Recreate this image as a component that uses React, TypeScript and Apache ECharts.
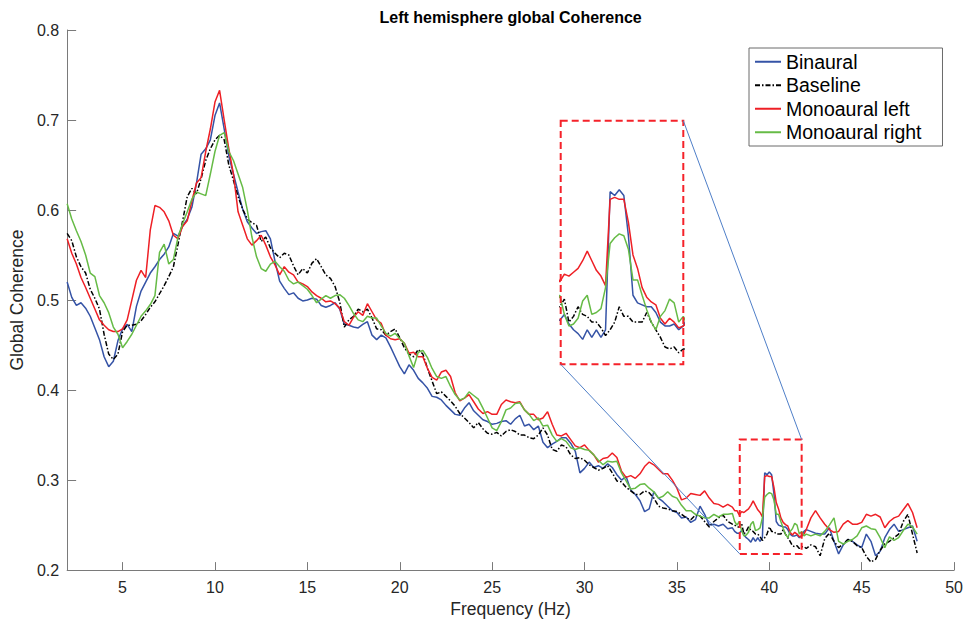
import React, { useEffect, useRef } from "react";
import * as echarts from "echarts";

// Sampling grid (Hz): 0.25 Hz steps, refined to 0.125 Hz around the 40 Hz stimulation band
function span(from: number, to: number, step: number): number[] {
  const out: number[] = [];
  const n = Math.round((to - from) / step);
  for (let i = 0; i <= n; i++) out.push(+(from + i * step).toFixed(3));
  return out;
}
const frequencies = [...span(2, 38, 0.25), ...span(38.125, 42, 0.125), ...span(42.25, 48, 0.25)];

const binaural = [
  0.520, 0.503, 0.494, 0.497, 0.491, 0.482, 0.469, 0.456, 0.437, 0.426, 0.432, 0.455, 0.468, 0.473, 0.465, 0.493,
  0.510, 0.520, 0.530, 0.537, 0.545, 0.551, 0.559, 0.574, 0.571, 0.582, 0.590, 0.603, 0.630, 0.662, 0.668, 0.678,
  0.705, 0.719, 0.690,
  0.660, 0.640, 0.620, 0.601, 0.587, 0.580, 0.574, 0.576, 0.577, 0.568, 0.543, 0.521, 0.513, 0.506, 0.508, 0.502,
  0.499, 0.500, 0.502, 0.501, 0.494, 0.492, 0.494, 0.497, 0.490, 0.473, 0.472, 0.470, 0.469,
  0.473, 0.476, 0.461, 0.456, 0.461, 0.458, 0.448, 0.437, 0.426, 0.418, 0.428, 0.422, 0.413, 0.408, 0.402, 0.393,
  0.392, 0.389, 0.383, 0.378, 0.373, 0.372, 0.380, 0.386, 0.377, 0.372, 0.367, 0.365, 0.362, 0.363, 0.365, 0.366,
  0.362, 0.368, 0.372, 0.360, 0.362, 0.356, 0.360, 0.342, 0.336, 0.340, 0.343, 0.347, 0.347, 0.341, 0.332, 0.308,
  0.313, 0.320, 0.314, 0.316, 0.313, 0.318, 0.314, 0.306, 0.300, 0.304, 0.289, 0.284, 0.277, 0.265, 0.268, 0.287,
  0.280, 0.276, 0.271, 0.266,
  0.264, 0.258, 0.259, 0.253, 0.256, 0.271, 0.262, 0.250, 0.251, 0.249, 0.251, 0.246, 0.247,
  0.243, 0.241, 0.241, 0.244, 0.239, 0.236, 0.234, 0.231, 0.236, 0.232, 0.236, 0.232, 0.236, 0.308, 0.306, 0.309,
  0.306, 0.285, 0.254, 0.250, 0.249, 0.248, 0.248, 0.245, 0.240, 0.238, 0.238, 0.239, 0.236, 0.238, 0.243, 0.245,
  0.243, 0.241, 0.240, 0.240, 0.247, 0.232, 0.218, 0.228, 0.234, 0.232, 0.228, 0.225, 0.240, 0.232, 0.216, 0.221,
  0.236, 0.245, 0.251, 0.243, 0.245, 0.247, 0.249, 0.232,
];

const baseline = [
  0.574, 0.566, 0.548, 0.537, 0.530, 0.512, 0.502, 0.490, 0.462, 0.440, 0.434, 0.440, 0.465, 0.472, 0.472, 0.473,
  0.477, 0.484, 0.492, 0.498, 0.507, 0.516, 0.526, 0.537, 0.562, 0.588, 0.615, 0.624, 0.618, 0.635, 0.655, 0.668,
  0.678, 0.683, 0.678,
  0.650, 0.633, 0.615, 0.601, 0.590, 0.586, 0.583, 0.565, 0.570, 0.558, 0.552, 0.547, 0.552, 0.550, 0.538, 0.528,
  0.535, 0.530, 0.541, 0.546, 0.537, 0.528, 0.524, 0.515, 0.498, 0.470, 0.478, 0.482, 0.490,
  0.487, 0.490, 0.480, 0.468, 0.467, 0.461, 0.465, 0.468, 0.458, 0.447, 0.440, 0.437, 0.445, 0.440, 0.424, 0.410,
  0.396, 0.398, 0.393, 0.388, 0.382, 0.374, 0.369, 0.364, 0.358, 0.364, 0.357, 0.352, 0.351, 0.353, 0.349, 0.354,
  0.356, 0.354, 0.350, 0.350, 0.347, 0.346, 0.350, 0.358, 0.350, 0.334, 0.332, 0.339, 0.337, 0.328, 0.324, 0.325,
  0.322, 0.317, 0.314, 0.311, 0.313, 0.316, 0.308, 0.299, 0.298, 0.292, 0.288, 0.284, 0.284, 0.288, 0.286, 0.280,
  0.271, 0.269, 0.268, 0.266,
  0.265, 0.262, 0.258, 0.256, 0.261, 0.260, 0.254, 0.248, 0.254, 0.258, 0.261, 0.254, 0.251,
  0.250, 0.248, 0.248, 0.252, 0.240, 0.243, 0.248, 0.244, 0.243, 0.240, 0.240, 0.237, 0.233, 0.236, 0.240, 0.248,
  0.243, 0.243, 0.240, 0.240, 0.240, 0.245, 0.240, 0.236, 0.232, 0.227, 0.226, 0.227, 0.224, 0.226, 0.226, 0.224,
  0.228, 0.226, 0.216, 0.235, 0.241, 0.232, 0.225, 0.229, 0.234, 0.232, 0.227, 0.225, 0.215, 0.209, 0.212, 0.222,
  0.229, 0.232, 0.236, 0.240, 0.254, 0.262, 0.240, 0.219,
];

const monoauralLeft = [
  0.568, 0.552, 0.540, 0.525, 0.514, 0.502, 0.490, 0.478, 0.472, 0.467, 0.465, 0.465, 0.468, 0.478, 0.500, 0.522,
  0.533, 0.525, 0.578, 0.605, 0.603, 0.598, 0.588, 0.572, 0.568, 0.582, 0.588, 0.610, 0.630, 0.636, 0.665, 0.690,
  0.720, 0.733, 0.700,
  0.668, 0.640, 0.598, 0.583, 0.568, 0.561, 0.566, 0.572, 0.561, 0.548, 0.539, 0.528, 0.537, 0.531, 0.528, 0.520,
  0.518, 0.515, 0.509, 0.505, 0.502, 0.498, 0.499, 0.496, 0.491, 0.476, 0.472, 0.481, 0.487,
  0.483, 0.496, 0.487, 0.478, 0.474, 0.461, 0.457, 0.456, 0.457, 0.452, 0.441, 0.442, 0.437, 0.437, 0.424, 0.414,
  0.411, 0.420, 0.422, 0.415, 0.397, 0.388, 0.391, 0.395, 0.387, 0.379, 0.374, 0.376, 0.373, 0.373, 0.384, 0.389,
  0.387, 0.386, 0.387, 0.378, 0.373, 0.373, 0.367, 0.369, 0.376, 0.362, 0.350, 0.349, 0.352, 0.345, 0.338, 0.336,
  0.339, 0.333, 0.328, 0.320, 0.324, 0.325, 0.330, 0.325, 0.310, 0.303, 0.305, 0.302, 0.307, 0.315, 0.320, 0.317,
  0.312, 0.307, 0.307, 0.300,
  0.291, 0.278, 0.280, 0.285, 0.284, 0.283, 0.288, 0.280, 0.274, 0.273, 0.270, 0.273, 0.270,
  0.266, 0.266, 0.261, 0.265, 0.264, 0.266, 0.268, 0.272, 0.277, 0.272, 0.267, 0.264, 0.259, 0.304, 0.305, 0.304,
  0.304, 0.292, 0.275, 0.268, 0.258, 0.253, 0.2505, 0.249, 0.242, 0.239, 0.242, 0.240, 0.237, 0.238, 0.240, 0.245,
  0.258, 0.266, 0.258, 0.251, 0.245, 0.242, 0.243, 0.251, 0.255, 0.251, 0.251, 0.253, 0.262, 0.260, 0.262, 0.259,
  0.247, 0.254, 0.258, 0.260, 0.267, 0.274, 0.264, 0.247,
];

const monoauralRight = [
  0.607, 0.590, 0.577, 0.565, 0.550, 0.530, 0.526, 0.505, 0.497, 0.486, 0.470, 0.462, 0.447, 0.454, 0.462, 0.472,
  0.482, 0.488, 0.495, 0.505, 0.553, 0.562, 0.540, 0.545, 0.570, 0.585, 0.598, 0.612, 0.620, 0.618, 0.616, 0.640,
  0.665, 0.683, 0.686,
  0.665, 0.655, 0.640, 0.625, 0.600, 0.570, 0.548, 0.535, 0.532, 0.540, 0.543, 0.537, 0.532, 0.522, 0.518, 0.520,
  0.516, 0.512, 0.505, 0.497, 0.501, 0.505, 0.502, 0.505, 0.506, 0.502, 0.494, 0.485, 0.478,
  0.476, 0.482, 0.480, 0.480, 0.471, 0.463, 0.460, 0.463, 0.457, 0.452, 0.438, 0.425, 0.442, 0.444, 0.436, 0.424,
  0.415, 0.413, 0.415, 0.404, 0.395, 0.389, 0.391, 0.398, 0.394, 0.390, 0.380, 0.369, 0.358, 0.355, 0.365, 0.378,
  0.380, 0.385, 0.386, 0.378, 0.373, 0.366, 0.369, 0.360, 0.361, 0.350, 0.343, 0.346, 0.343, 0.336, 0.334, 0.336,
  0.334, 0.333, 0.328, 0.322, 0.317, 0.321, 0.320, 0.321, 0.308, 0.299, 0.290, 0.291, 0.295, 0.296, 0.291, 0.287,
  0.280, 0.282, 0.287, 0.282,
  0.280, 0.272, 0.266, 0.266, 0.262, 0.260, 0.258, 0.258, 0.262, 0.259, 0.262, 0.262, 0.263,
  0.254, 0.250, 0.254, 0.244, 0.238, 0.239, 0.242, 0.251, 0.254, 0.244, 0.245, 0.247, 0.258, 0.281, 0.284, 0.286,
  0.285, 0.278, 0.262, 0.262, 0.254, 0.2465, 0.240, 0.236, 0.243, 0.246, 0.252, 0.250, 0.240, 0.243, 0.238, 0.240,
  0.238, 0.240, 0.238, 0.243, 0.250, 0.258, 0.232, 0.229, 0.232, 0.234, 0.238, 0.247, 0.249, 0.246, 0.245, 0.236,
  0.225, 0.237, 0.233, 0.236, 0.244, 0.251, 0.248, 0.240,
];

const xTicks = [5, 10, 15, 20, 25, 30, 35, 40, 45, 50];

// Magnified window around the 40 Hz response
const zoomX = [38.4, 41.75];
const zoomY = [0.218, 0.345];

const FONT = '"Liberation Sans", Arial, Helvetica, sans-serif';
const AXIS_GRAY = "#7a7a7a";
const TEXT_GRAY = "#262626";

const seriesDefs = [
  { name: "Binaural", values: binaural, color: "#3553a6", dash: "solid" as any },
  { name: "Baseline", values: baseline, color: "#000000", dash: [5, 2, 1.5, 2] as any },
  { name: "Monoaural left", values: monoauralLeft, color: "#ee1f25", dash: "solid" as any },
  { name: "Monoaural right", values: monoauralRight, color: "#66bb46", dash: "solid" as any },
];

export default function App() {
  const ref = useRef<HTMLDivElement>(null);

  useEffect(() => {
    if (!ref.current) return;
    const chart = echarts.init(ref.current, null, { renderer: "svg" });

    const mainSeries = seriesDefs.map((s) => ({
      name: s.name,
      type: "line",
      xAxisIndex: 0,
      yAxisIndex: 0,
      symbol: "none",
      showSymbol: false,
      silent: true,
      lineStyle: { color: s.color, width: 1.5, type: s.dash },
      itemStyle: { color: s.color },
      data: frequencies.map((f, i) => [f, s.values[i]]),
    }));

    const insetSeries = seriesDefs.map((s) => ({
      name: s.name + " (zoom)",
      type: "line",
      xAxisIndex: 1,
      yAxisIndex: 1,
      symbol: "none",
      showSymbol: false,
      silent: true,
      clip: true,
      lineStyle: { color: s.color, width: 1.5, type: s.dash },
      itemStyle: { color: s.color },
      data: frequencies
        .map((f, i) => [f, s.values[i]])
        .filter((p) => p[0] >= 38 && p[0] <= 42.25),
    }));

    chart.setOption({
      animation: false,
      backgroundColor: "#ffffff",
      grid: [
        { left: 63.5, right: 9.5, top: 30, bottom: 50.5 },
        { left: 560.7, top: 120.7, width: 122.6, height: 243.6 },
      ],
      xAxis: [
        {
          type: "value",
          gridIndex: 0,
          min: 2,
          max: 50,
          name: "Frequency (Hz)",
          nameLocation: "middle",
          nameGap: 25,
          nameTextStyle: { fontFamily: FONT, fontSize: 17.5, color: TEXT_GRAY },
          axisLine: { show: true, lineStyle: { color: AXIS_GRAY, width: 1 } },
          axisTick: { show: true, inside: true, length: 8, customValues: xTicks, lineStyle: { color: AXIS_GRAY } },
          axisLabel: { customValues: xTicks, fontFamily: FONT, fontSize: 16, color: TEXT_GRAY, margin: 9 },
          splitLine: { show: false },
        },
        { type: "value", gridIndex: 1, min: zoomX[0], max: zoomX[1], show: false },
      ],
      yAxis: [
        {
          type: "value",
          gridIndex: 0,
          min: 0.2,
          max: 0.8,
          interval: 0.1,
          name: "Global Coherence",
          nameLocation: "middle",
          nameGap: 38,
          nameTextStyle: { fontFamily: FONT, fontSize: 17.5, color: TEXT_GRAY },
          axisLine: { show: true, lineStyle: { color: AXIS_GRAY, width: 1 } },
          axisTick: { show: true, inside: true, length: 9, lineStyle: { color: AXIS_GRAY } },
          axisLabel: {
            fontFamily: FONT,
            fontSize: 16,
            color: TEXT_GRAY,
            margin: 8,
            formatter: (v: number) => v.toFixed(1),
          },
          splitLine: { show: false },
        },
        { type: "value", gridIndex: 1, min: zoomY[0], max: zoomY[1], show: false },
      ],
      legend: {
        data: seriesDefs.map((s) => s.name),
        orient: "vertical",
        left: 749,
        top: 48,
        itemWidth: 26,
        itemHeight: 12,
        itemGap: 0,
        padding: [2, 21, 2, 5],
        borderColor: "#6b6b6b",
        borderWidth: 1,
        backgroundColor: "#ffffff",
        selectedMode: false,
        itemStyle: { opacity: 0 },
        textStyle: { fontFamily: FONT, fontSize: 19.5, color: "#000000", lineHeight: 23.5 },
      },
      series: [...mainSeries, ...insetSeries],
    });

    const px = (g: number, x: number, y: number) =>
      chart.convertToPixel({ gridIndex: g } as any, [x, y]) as number[];
    const a0 = px(0, zoomX[0], zoomY[0]);
    const a1 = px(0, zoomX[1], zoomY[1]);
    const b0 = px(1, zoomX[0], zoomY[0]);
    const b1 = px(1, zoomX[1], zoomY[1]);
    const titleX = px(0, 26, 0.8)[0];

    const boxStyle = { fill: "none", stroke: "#f5222a", lineWidth: 2, lineDash: [7, 4] };
    const linkStyle = { stroke: "#4f7fc8", lineWidth: 1 };

    chart.setOption({
      graphic: [
        {
          type: "text",
          x: titleX,
          y: 17,
          silent: true,
          style: {
            text: "Left hemisphere global Coherence",
            fontFamily: FONT,
            fontSize: 16,
            fontWeight: "bold",
            fill: "#000000",
            align: "center",
            verticalAlign: "middle",
          },
        },
        {
          type: "rect",
          silent: true,
          z: 100,
          shape: { x: a0[0], y: a1[1], width: a1[0] - a0[0], height: a0[1] - a1[1] },
          style: boxStyle,
        },
        {
          type: "rect",
          silent: true,
          z: 100,
          shape: { x: b0[0], y: b1[1], width: b1[0] - b0[0], height: b0[1] - b1[1] },
          style: boxStyle,
        },
        {
          type: "line",
          silent: true,
          z: 100,
          shape: { x1: a0[0], y1: a0[1], x2: b0[0], y2: b0[1] },
          style: linkStyle,
        },
        {
          type: "line",
          silent: true,
          z: 100,
          shape: { x1: a1[0], y1: a1[1], x2: b1[0], y2: b1[1] },
          style: linkStyle,
        },
      ],
    });

    return () => chart.dispose();
  }, []);

  return (
    <div
      ref={ref}
      style={{ position: "absolute", left: 0, top: 0, width: 966, height: 623, background: "#fff" }}
    />
  );
}
